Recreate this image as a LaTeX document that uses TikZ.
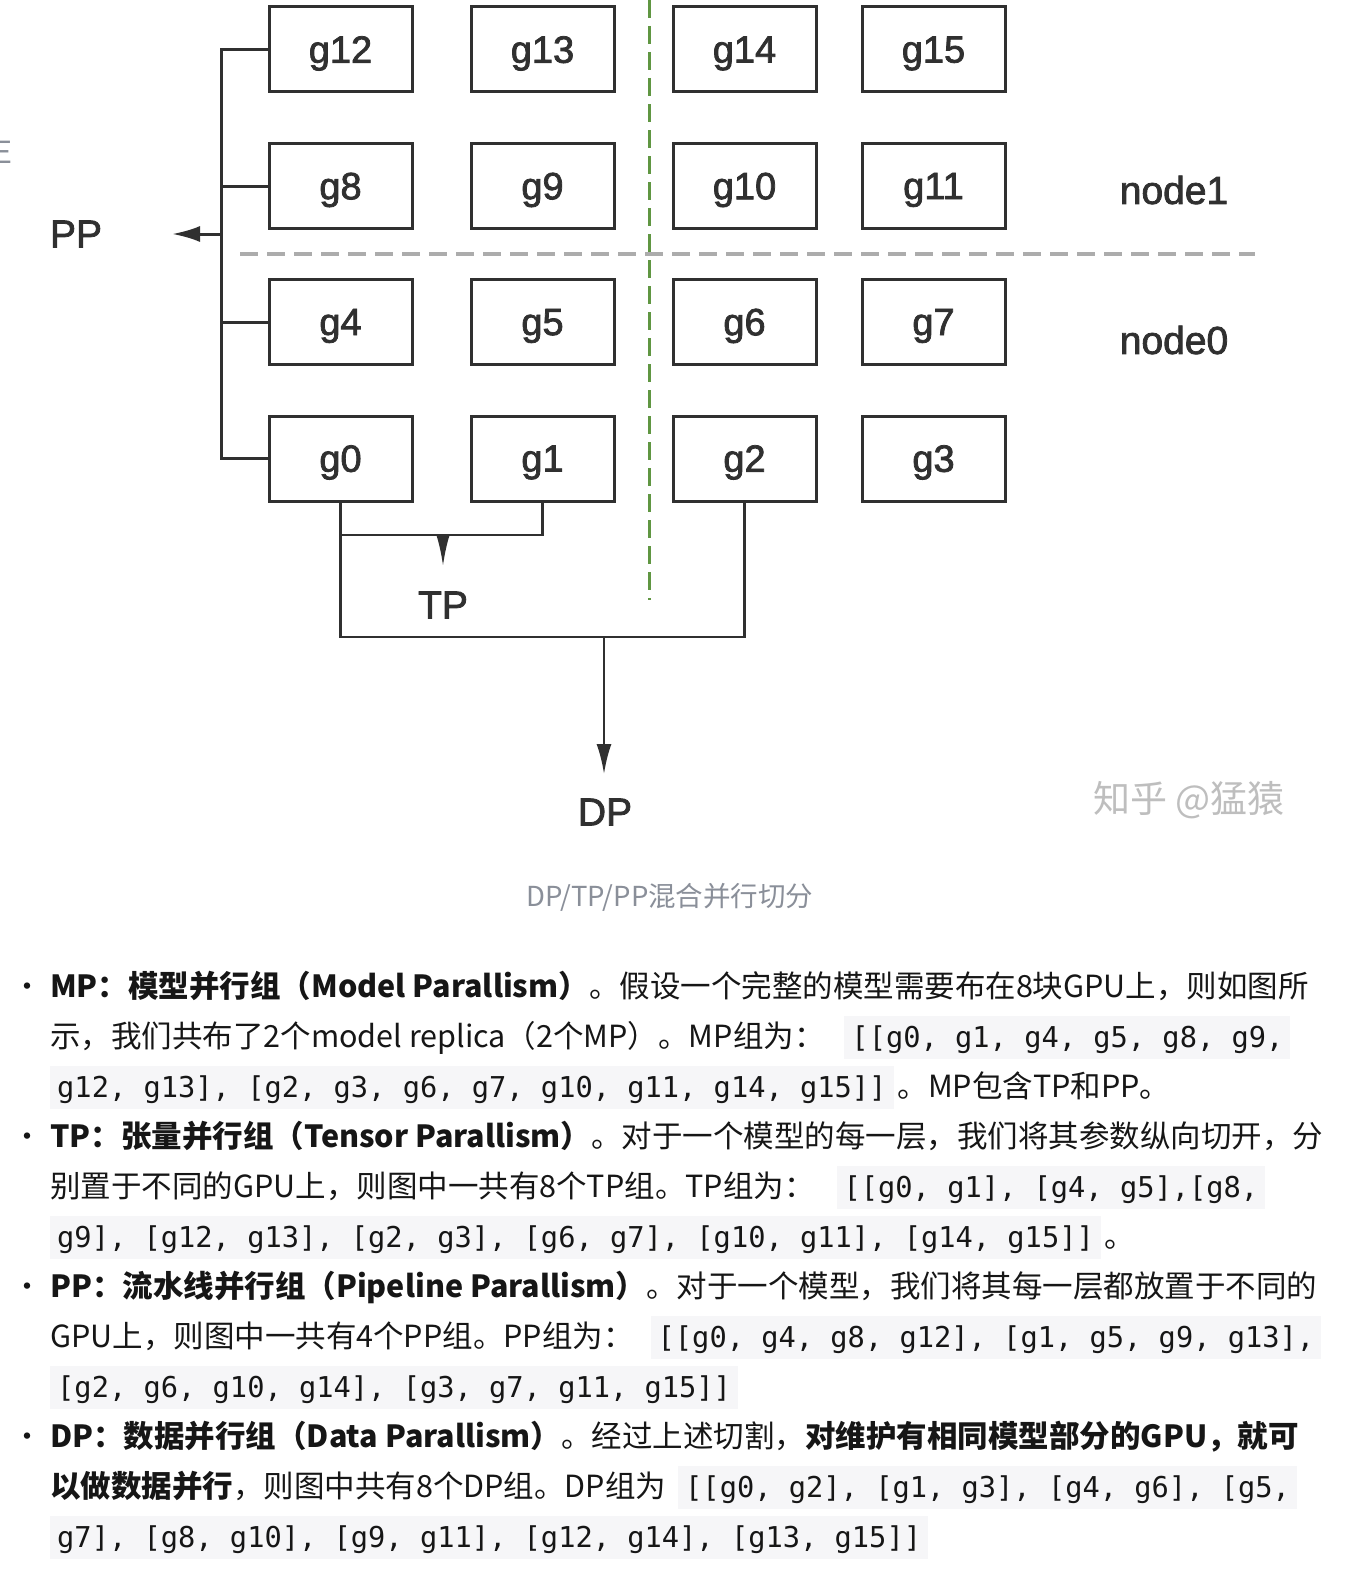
\documentclass[tikz,border=0pt]{standalone}
\usepackage{fontspec}
\setmainfont{Noto Sans CJK SC}
\setmonofont{DejaVu Sans Mono}
\newfontfamily\diagfont[FakeBold=2]{Liberation Sans}
\usetikzlibrary{shapes,arrows.meta}

\definecolor{linegray}{RGB}{48,48,48}
\definecolor{sepgray}{RGB}{172,172,172}
\definecolor{sepgreen}{RGB}{96,150,66}
\definecolor{capgray}{RGB}{138,143,153}
\definecolor{markgray}{RGB}{190,190,190}
\definecolor{codebg}{RGB}{246,246,248}
\definecolor{bodytext}{RGB}{22,22,22}

\newcommand\bodyfont{\fontsize{30.5bp}{50bp}\selectfont}
\newcommand\code[1]{{\setlength{\fboxsep}{0pt}\colorbox{codebg}{\rule[-12bp]{0pt}{43bp}\kern7bp\ttfamily\fontsize{28.7bp}{50bp}\selectfont #1\kern7bp}}}

\begin{document}
\begin{tikzpicture}[x=1bp,y=-1bp,
	gpu/.style={draw=linegray, line width=3bp, minimum width=143bp, minimum height=85bp, inner sep=0pt, text depth=0pt, text=linegray, font=\diagfont\fontsize{38bp}{40bp}\selectfont},
	conn/.style={draw=linegray, line width=3bp},
	arr/.style={conn, -{Latex[length=30bp,width=15bp]}},
	tag/.style={inner sep=0pt, text=linegray, font=\diagfont\fontsize{39bp}{40bp}\selectfont},
	textline/.style={anchor=base west, inner sep=0pt, text=bodytext, font=\bodyfont}]
	\fill[white] (0,0) rectangle (1350,1570);
	\useasboundingbox (0,0) rectangle (1350,1570);

	%cut off sidebar letter
	\begin{scope}
		\clip (0,110) rectangle (15,200);
		\node[text=capgray, font=\bodyfont, inner sep=0pt] (sideE) at (3,152) {E};
	\end{scope}

	%separators
	\draw[sepgray, line width=4bp, dash pattern=on 18bp off 9bp] (240,254) -- (1255,254);
	\draw[sepgreen, line width=3bp, dash pattern=on 18bp off 8bp] (649,0) -- (649,600);

	%gpus
	\node[gpu] (g12) at (340.5,49.5) {g12};
	\node[gpu] (g13) at (542.5,49.5) {g13};
	\node[gpu] (g14) at (744.5,49.5) {g14};
	\node[gpu] (g15) at (933.5,49.5) {g15};
	\node[gpu] (g8) at (340.5,186) {g8};
	\node[gpu] (g9) at (542.5,186) {g9};
	\node[gpu] (g10) at (744.5,186) {g10};
	\node[gpu] (g11) at (933.5,186) {g11};
	\node[gpu] (g4) at (340.5,322) {g4};
	\node[gpu] (g5) at (542.5,322) {g5};
	\node[gpu] (g6) at (744.5,322) {g6};
	\node[gpu] (g7) at (933.5,322) {g7};
	\node[gpu] (g0) at (340.5,458.5) {g0};
	\node[gpu] (g1) at (542.5,458.5) {g1};
	\node[gpu] (g2) at (744.5,458.5) {g2};
	\node[gpu] (g3) at (933.5,458.5) {g3};

	%labels
	\node[tag] (node1) at (1174,190) {node1};
	\node[tag] (node0) at (1174,340) {node0};
	\node[tag] (PP) at (76,234) {PP};
	\node[tag] (TP) at (443,605) {TP};
	\node[tag] (DP) at (605,812) {DP};

	%PP bracket
	\coordinate (ppjoin) at (221,234);
	\coordinate (pptip) at (172,234);
	\draw[conn] (g12.west) -- (g12.west -| ppjoin) -- (g0.west -| ppjoin) -- (g0.west);
	\draw[conn] (g8.west) -- (g8.west -| ppjoin);
	\draw[conn] (g4.west) -- (g4.west -| ppjoin);
	\draw[arr, -{Latex[length=28bp,width=16bp]}] (ppjoin) -- (pptip);

	%TP bracket
	\coordinate (tpjoin) at (443,535);
	\coordinate (tptip) at (443,566);
	\draw[conn, line width=2.5bp] (g0.south) -- (g0.south |- tpjoin) -- (g1.south |- tpjoin) -- (g1.south);
	\draw[arr, line width=2.5bp, -{Latex[length=32bp,width=14bp]}] (tpjoin) -- (tptip);

	%DP bracket
	\coordinate (dpjoin) at (604,637);
	\coordinate (dptip) at (604,774);
	\draw[conn, line width=2.5bp] (g0.south |- tpjoin) -- (g0.south |- dpjoin) -- (g2.south |- dpjoin) -- (g2.south);
	\draw[arr, line width=2.5bp] (dpjoin) -- (dptip);

	%watermark and caption
	\node[text=markgray, inner sep=0pt, font=\fontsize{37bp}{40bp}\selectfont] (mark) at (1189,800) {知乎 @猛猿};
	\node[text=capgray, inner sep=0pt, font=\fontsize{27.5bp}{30bp}\selectfont] (caption) at (670,897) {DP/TP/PP混合并行切分};

	%bullets
	\node[anchor=base, inner sep=0pt, text=bodytext, font=\fontsize{30bp}{30bp}\selectfont] (b1) at (27,997) {•};
	\node[anchor=base, inner sep=0pt, text=bodytext, font=\fontsize{30bp}{30bp}\selectfont] (b2) at (27,1147) {•};
	\node[anchor=base, inner sep=0pt, text=bodytext, font=\fontsize{30bp}{30bp}\selectfont] (b3) at (27,1297) {•};
	\node[anchor=base, inner sep=0pt, text=bodytext, font=\fontsize{30bp}{30bp}\selectfont] (b4) at (27,1447) {•};

	%text lines
	\node[textline] (mp1) at (50,997) {\textbf{MP：模型并行组（Model Parallism）}。假设一个完整的模型需要布在8块GPU上，则如图所};
	\node[textline] (mp2) at (50,1047) {示，我们共布了2个model replica（2个MP）。MP组为：\hspace{20bp}\code{[[g0, g1, g4, g5, g8, g9,}};
	\node[textline] (mp3) at (50,1097) {\code{g12, g13], [g2, g3, g6, g7, g10, g11, g14, g15]]}\hspace{4bp}。MP包含TP和PP。};
	\node[textline] (tp1) at (50,1147) {\textbf{TP：张量并行组（Tensor Parallism）}。对于一个模型的每一层，我们将其参数纵向切开，分};
	\node[textline] (tp2) at (50,1197) {别置于不同的GPU上，则图中一共有8个TP组。TP组为：\hspace{22bp}\code{[[g0, g1], [g4, g5],[g8,}};
	\node[textline] (tp3) at (50,1247) {\code{g9], [g12, g13], [g2, g3], [g6, g7], [g10, g11], [g14, g15]]}\hspace{4bp}。};
	\node[textline] (pp1) at (50,1297) {\textbf{PP：流水线并行组（Pipeline Parallism）}。对于一个模型，我们将其每一层都放置于不同的};
	\node[textline] (pp2) at (50,1347) {GPU上，则图中一共有4个PP组。PP组为：\hspace{17bp}\code{[[g0, g4, g8, g12], [g1, g5, g9, g13],}};
	\node[textline] (pp3) at (50,1397) {\code{[g2, g6, g10, g14], [g3, g7, g11, g15]]}};
	\node[textline] (dp1) at (50,1447) {\textbf{DP：数据并行组（Data Parallism）}。经过上述切割，\textbf{对维护有相同模型部分的GPU，就可}};
	\node[textline] (dp2) at (50,1497) {\textbf{以做数据并行}，则图中共有8个DP组。DP组为\hspace{12bp}\code{[[g0, g2], [g1, g3], [g4, g6], [g5,}};
	\node[textline] (dp3) at (50,1547) {\code{g7], [g8, g10], [g9, g11], [g12, g14], [g13, g15]]}};

\end{tikzpicture}
\end{document}
